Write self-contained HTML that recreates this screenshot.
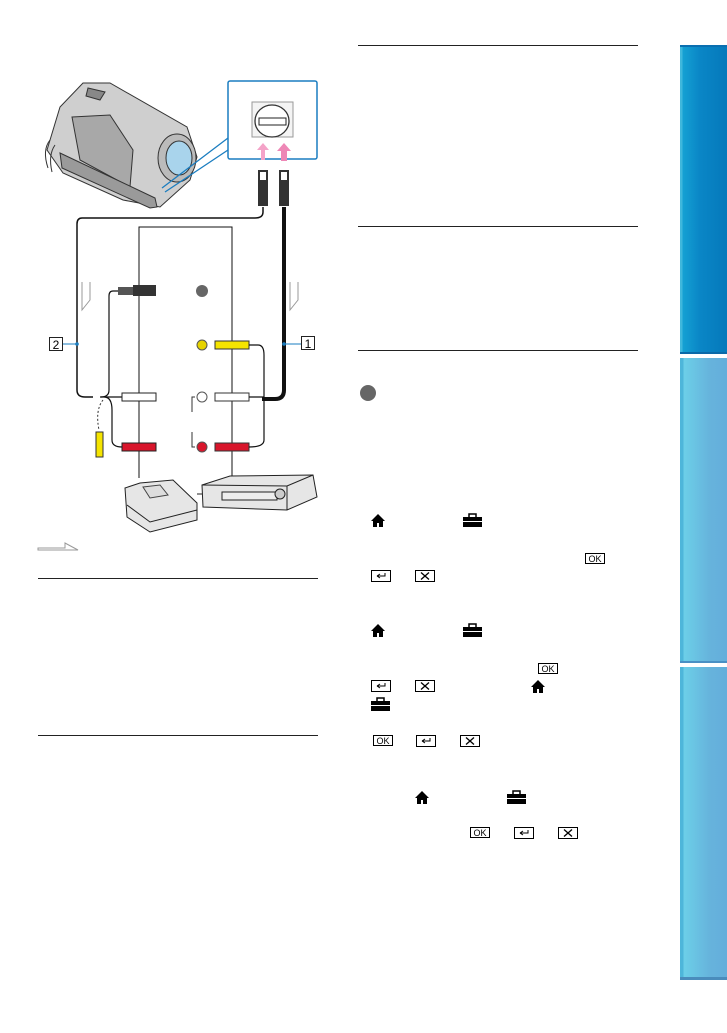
<!DOCTYPE html>
<html><head><meta charset="utf-8"><style>
html,body{margin:0;padding:0;background:#fff;}
body{width:727px;height:1033px;position:relative;overflow:hidden;font-family:"Liberation Sans",sans-serif;}
.hr{position:absolute;height:1px;background:#222;}
.tab{position:absolute;left:680px;width:47px;}
.t1{top:45px;height:309px;background:linear-gradient(90deg,#3fb7dc 0,#3fb7dc 2px,#14a0d3 3px,#0a86c6 20px,#0579bb 100%);border-top:2px solid #0a6fb0;border-bottom:2px solid #0b69a8;box-sizing:border-box;}
.t2{top:358px;height:305px;background:linear-gradient(90deg,#4eb6da 0,#4eb6da 3px,#6ccfe8 4px,#66b3dc 30px,#64aedb 100%);border-bottom:2px solid #4a90c4;box-sizing:border-box;}
.t3{top:667px;height:313px;background:linear-gradient(90deg,#4eb6da 0,#4eb6da 3px,#6ccfe8 4px,#66b3dc 30px,#64aedb 100%);border-bottom:3px solid #4a8cbc;box-sizing:border-box;}
</style></head><body>
<div class="hr" style="left:358px;top:45px;width:280px"></div>
<div class="hr" style="left:358px;top:226px;width:280px"></div>
<div class="hr" style="left:358px;top:350px;width:280px"></div>
<div class="hr" style="left:38px;top:578px;width:280px"></div>
<div class="hr" style="left:38px;top:735px;width:280px"></div>
<div class="tab t1"></div><div class="tab t2"></div><div class="tab t3"></div>

<svg width="727" height="1033" style="position:absolute;left:0;top:0" xmlns="http://www.w3.org/2000/svg">
<defs>
<g id="home"><path d="M0,7 L7,0 L14,7 L12,7 L12,13 L8,13 L8,9 L6,9 L6,13 L2,13 L2,7Z" fill="#000"/></g>
<g id="tool"><rect x="0" y="3" width="19" height="10" fill="#000"/><rect x="6" y="0" width="7" height="4" fill="none" stroke="#000" stroke-width="1.5"/><rect x="0" y="7" width="19" height="1" fill="#fff"/></g>
<g id="ok"><rect x="0.5" y="0.5" width="19" height="10" fill="#fff" stroke="#000"/><text x="10" y="9" font-size="9" text-anchor="middle" font-family="Liberation Sans">OK</text></g>
<g id="ret"><rect x="0.5" y="0.5" width="19" height="11" fill="#fff" stroke="#000"/><path d="M6,6 H14 V3 M6,6 l3,-2 M6,6 l3,2" stroke="#000" fill="none"/></g>
<g id="x"><rect x="0.5" y="0.5" width="19" height="11" fill="#fff" stroke="#000"/><path d="M6,2.5 L14,9.5 M14,2.5 L6,9.5" stroke="#000" stroke-width="1.3"/></g>
</defs>
<circle cx="368" cy="393" r="8" fill="#666"/>
<use href="#home" x="371" y="514"/><use href="#tool" x="463" y="514"/>
<use href="#ok" x="585" y="553"/><use href="#ret" x="371" y="570"/><use href="#x" x="415" y="570"/>
<use href="#home" x="371" y="624"/><use href="#tool" x="463" y="624"/>
<use href="#ok" x="538" y="663"/><use href="#ret" x="371" y="680"/><use href="#x" x="415" y="680"/><use href="#home" x="531" y="680"/>
<use href="#tool" x="371" y="698"/>
<use href="#ok" x="373" y="735"/><use href="#ret" x="416" y="735"/><use href="#x" x="460" y="735"/>
<use href="#home" x="415" y="791"/><use href="#tool" x="507" y="791"/>
<use href="#ok" x="470" y="827"/><use href="#ret" x="514" y="827"/><use href="#x" x="558" y="827"/>

<!-- camera -->
<g stroke="#333" stroke-width="1">
<path d="M47,150 L60,107 L83,83 L110,83 L187,127 L197,157 L190,180 L160,207 L123,200 L63,173 Z" fill="#cfcfcf"/>
<path d="M72,117 L110,115 L133,150 L130,187 L80,160 Z" fill="#a8a8a8"/>
<path d="M60,153 L155,198 L157,207 L150,208 L62,168 Z" fill="#9a9a9a"/>
<path d="M88,88 L105,92 L100,100 L86,96Z" fill="#888"/>
<ellipse cx="177" cy="158" rx="19" ry="24" fill="#bbb"/>
<ellipse cx="179" cy="158" rx="13" ry="17" fill="#a9d4ec"/>
<path d="M50,140 Q42,150 48,168 M55,145 Q48,155 52,172" fill="none"/>
</g>
<rect x="228" y="81" width="89" height="78" rx="2" fill="#fff" stroke="#1a7dc0" stroke-width="1.5"/>
<path d="M228,138 L162,188 M228,150 L165,192" stroke="#1a7dc0" stroke-width="1.3"/>
<rect x="252" y="102" width="41" height="35" fill="#f4f4f4" stroke="#999"/>
<ellipse cx="272" cy="121" rx="17" ry="16" fill="#fff" stroke="#333" stroke-width="1.3"/>
<rect x="259" y="118" width="27" height="7" fill="#fff" stroke="#222"/>
<path d="M263,143 l-6,7 h4 v10 h4 v-10 h4z" fill="#f4a3c8"/>
<path d="M284,143 l-7,8 h4 v10 h6 v-10 h4z" fill="#ee87b6"/>
<g fill="#333"><rect x="258" y="170" width="10" height="36"/><rect x="279" y="170" width="10" height="36"/></g>
<g fill="#fff"><rect x="260" y="172" width="6" height="8"/><rect x="281" y="172" width="6" height="8"/></g>
<path d="M263,207 V212 Q263,218 255,218 H82 Q77,218 77,224 V390 Q77,397 85,397 H93" fill="none" stroke="#111" stroke-width="1.5"/>
<path d="M284,207 V390 Q284,399 275,399 H262" fill="none" stroke="#111" stroke-width="4"/>
<path d="M139,478 V227 H232 V478" fill="none" stroke="#111" stroke-width="1"/>
<path d="M118,291 H113 Q109,291 109,296 V390 Q109,397 101,397" fill="none" stroke="#111" stroke-width="1.2"/>
<rect x="118" y="287" width="15" height="8" fill="#555"/><rect x="133" y="285" width="23" height="11" fill="#333"/>
<circle cx="202" cy="291" r="6" fill="#666"/>
<path d="M100,397 H122 M104,397 Q112,397 112,410 V440 Q112,447 122,447" fill="none" stroke="#111" stroke-width="1.2"/>
<rect x="122" y="393" width="34" height="8" fill="#fff" stroke="#222"/>
<rect x="122" y="443" width="34" height="8" fill="#d8152b" stroke="#222"/>
<path d="M103,400 Q95,410 99,430" fill="none" stroke="#333" stroke-dasharray="2,2"/>
<rect x="96" y="432" width="7" height="25" fill="#f5e400" stroke="#333"/>
<circle cx="202" cy="345" r="5" fill="#e6d300" stroke="#555"/>
<circle cx="202" cy="397" r="5" fill="#fff" stroke="#555"/>
<circle cx="202" cy="447" r="5" fill="#d8152b" stroke="#555"/>
<rect x="215" y="341" width="34" height="8" fill="#f5e400" stroke="#333"/>
<rect x="215" y="393" width="34" height="8" fill="#fff" stroke="#333"/>
<rect x="215" y="443" width="34" height="8" fill="#d8152b" stroke="#333"/>
<path d="M249,345 H258 Q264,345 264,355 V440 Q264,447 249,447 M249,397 H264" fill="none" stroke="#111" stroke-width="1.2"/>
<path d="M195,397 H192 V412 M195,447 H192 V432" fill="none" stroke="#333"/>
<rect x="49.5" y="337.5" width="13" height="13" fill="#fff" stroke="#222"/><text x="56" y="349" font-size="12" text-anchor="middle">2</text>
<path d="M63,344 H77" stroke="#1a7dc0"/><circle cx="77" cy="344" r="1.8" fill="#1a7dc0"/>
<rect x="301.5" y="336.5" width="13" height="13" fill="#fff" stroke="#222"/><text x="308" y="348" font-size="12" text-anchor="middle">1</text>
<path d="M284,344 H301" stroke="#1a7dc0"/><circle cx="284" cy="344" r="1.8" fill="#1a7dc0"/>
<path d="M82,282 V310 L90,300 V282" fill="none" stroke="#999"/>
<path d="M290,282 V310 L298,300 V282" fill="none" stroke="#999"/>
<!-- devices -->
<path d="M125,488 L140,483 L173,480 L197,503 L197,520 L150,532 L127,517 Z" fill="#e6e6e6" stroke="#222"/>
<path d="M127,505 L150,522 L197,510" fill="none" stroke="#222"/>
<path d="M143,487 L160,485 L168,495 L150,498Z" fill="#ddd" stroke="#444"/>
<path d="M197,494 H205" stroke="#222"/>
<path d="M202,485 L230,476 L313,475 L317,497 L287,510 L203,507 Z" fill="#e6e6e6" stroke="#222"/>
<path d="M202,485 L287,486 L313,475 M287,486 L287,510" fill="none" stroke="#222"/>
<rect x="222" y="492" width="55" height="8" fill="#eee" stroke="#222"/>
<circle cx="280" cy="494" r="5" fill="#ccc" stroke="#222"/>
<path d="M38,548 H65 V543 L78,550 H38Z" fill="none" stroke="#999"/>
</svg>
</body></html>
